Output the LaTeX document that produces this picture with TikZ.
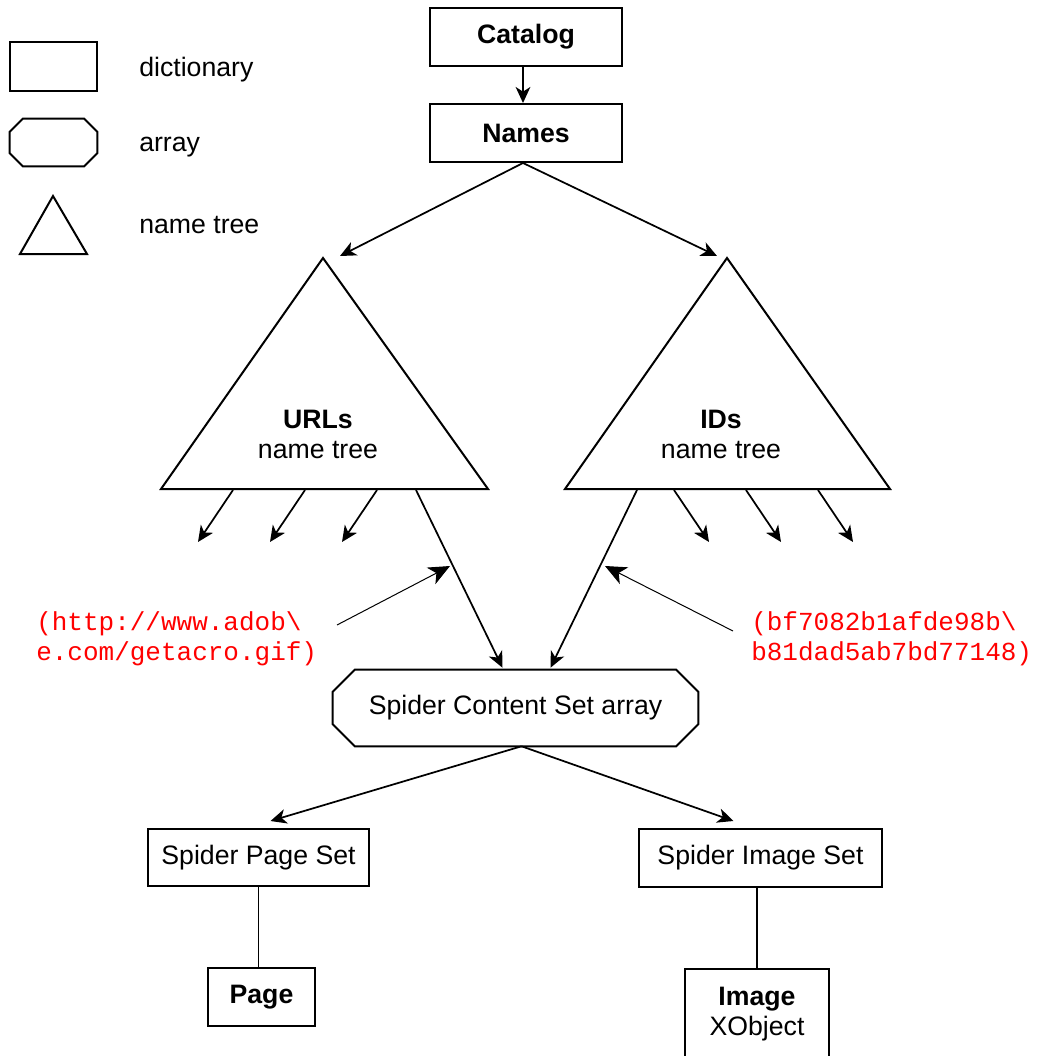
\documentclass[tikz,border=0pt]{standalone}
\usepackage{fontspec}
\setmainfont{Liberation Sans}
\setmonofont{Liberation Mono}
\usepackage{tikz}
\usetikzlibrary{arrows.meta}
\usetikzlibrary{calc}

% octagon drawn round a named node, #2 = corner cut
\newcommand{\drawchamfer}[2]{%
	\draw[line width=1.5pt] ($(#1.north west)+(#2,0)$) -- ($(#1.north east)+(-#2,0)$)
		-- ($(#1.north east)+(0,#2)$) -- ($(#1.south east)+(0,-#2)$)
		-- ($(#1.south east)+(-#2,0)$) -- ($(#1.south west)+(#2,0)$)
		-- ($(#1.south west)+(0,-#2)$) -- ($(#1.north west)+(0,#2)$) -- cycle;}

\begin{document}
\begin{tikzpicture}[x=0.75pt, y=-0.75pt,
    every node/.style={font=\fontsize{20}{22.5}\selectfont, inner sep=0pt},
    dict/.style={draw, line width=1.5pt},
    tree/.style={line width=1.5pt, line join=miter},
    link/.style={-{Stealth[length=12pt, width=11pt, inset=3.5pt]}, line width=1.3pt},
    callout/.style={-{Stealth[length=16pt, width=14pt, inset=4.5pt]}, line width=0.75pt},
    ref/.style={text=red, font=\ttfamily\fontsize{19.5}{22.5}\selectfont, align=left, anchor=west}]
		\useasboundingbox (0,0) rectangle (1037,1056);
		% legend
		\node[dict, minimum width=65.25pt, minimum height=36.75pt] (keyDict) at (53.5,66.5) {};
		\node[minimum width=65.25pt, minimum height=35.25pt] (keyArray) at (53.5,142.5) {};
		\drawchamfer{keyArray}{13}
		\draw[tree] (53,196) -- (87,254) -- (20,254) -- cycle;
		\node[anchor=west] (keyDictText) at (139,70) {dictionary};
		\node[anchor=west] (keyArrayText) at (139,147) {array};
		\node[anchor=west] (keyTreeText) at (139,225) {name tree};
		% catalog and names
		\node[dict, minimum width=144pt, minimum height=43.5pt] (catalog) at (526,37) {\textbf{Catalog}};
		\node[dict, minimum width=144pt, minimum height=43.5pt] (names) at (526,133) {\textbf{Names}};
		\draw[link] ($(catalog.south)+(-3,0)$) -- ($(names.north)+(-3,0)$);
		% name trees
		\draw[tree] (323,258) -- (488,489) -- (161,489) -- cycle;
		\draw[tree] (727,258) -- (890,489) -- (565,489) -- cycle;
		\node[align=center] (urls) at (318,434) {\textbf{URLs}\\name tree};
		\node[align=center] (ids) at (721,434) {\textbf{IDs}\\name tree};
		\coordinate (urlsIn) at (340,256);
		\coordinate (idsIn) at (717,256);
		\draw[link] ($(names.south)+(-3,0)$) -- (urlsIn);
		\draw[link] ($(names.south)+(-3,0)$) -- (idsIn);
		\foreach \x in {233,305,377}
			\draw[link] (\x,490) -- ++(-35,52);
		\foreach \x in {674,746,818}
			\draw[link] (\x,490) -- ++(35,52);
		% content set
		\node[minimum width=273.75pt, minimum height=57pt] (content) at (515.5,708) {Spider Content Set array};
		\drawchamfer{content}{22}
		\coordinate (urlsOut) at (416,490);
		\coordinate (idsOut) at (637,490);
		\draw[link] (urlsOut) -- ($(content.north)+(-13,-2)$);
		\draw[link] (idsOut) -- ($(content.north)+(35,-2)$);
		% keys
		\node[ref] (urlKey) at (36,639) {(http://www.adob\textbackslash\\e.com/getacro.gif)};
		\node[ref] (idKey) at (751,639) {(bf7082b1afde98b\textbackslash\\b81dad5ab7bd77148)};
		\coordinate (urlFrom) at (337,625);
		\coordinate (urlTo) at (450,566);
		\coordinate (idFrom) at (733,631);
		\coordinate (idTo) at (605,566);
		\draw[callout] (urlFrom) -- (urlTo);
		\draw[callout] (idFrom) -- (idTo);
		% page and image sets
		\node[dict, minimum width=165.75pt, minimum height=42.75pt] (pageSet) at (258.5,857.5) {Spider Page Set};
		\node[dict, minimum width=182.25pt, minimum height=43.5pt] (imageSet) at (760.5,858) {Spider Image Set};
		\draw[link] ($(content.south)+(6,0)$) -- ($(pageSet.north)+(12,-7)$);
		\draw[link] ($(content.south)+(6,0)$) -- ($(imageSet.north)+(-27,-7)$);
		\node[dict, minimum width=80.25pt, minimum height=43.5pt] (page) at (261.5,997) {\textbf{Page}};
		\node[dict, minimum width=108pt, minimum height=68.25pt, align=center] (image) at (757,1014.5) {\textbf{Image}\\XObject};
		\draw[line width=1.3pt] (pageSet.south) -- (pageSet.south |- page.north);
		\draw[line width=1.3pt] (image.north |- imageSet.south) -- (image.north);
	\end{tikzpicture}
\end{document}
